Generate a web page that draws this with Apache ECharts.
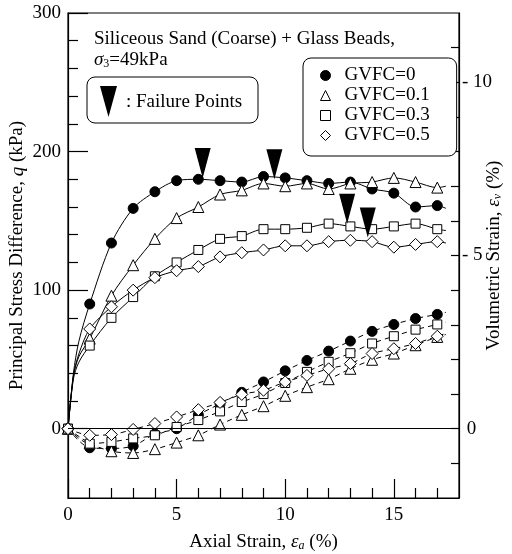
<!DOCTYPE html>
<html>
<head>
<meta charset="utf-8">
<script src="https://cdn.jsdelivr.net/npm/echarts@6/dist/echarts.min.js"></script>
<style>
  html, body { margin: 0; padding: 0; background: #fff; }
  #chart { width: 512px; height: 554px; }
</style>
</head>
<body>
<div id="chart"></div>
<script>
// axial strain (%) for the stress curves; non-integer points carry no marker
var strainQ = [0, 0.25, 0.5, 1, 2, 3, 4, 5, 6, 7, 8, 9, 10, 11, 12, 13, 14, 15, 16, 17, 17.4];
// principal stress difference q (kPa)
var qG0   = [0, 40, 63, 90, 134, 159, 171, 179, 180, 179, 178, 182, 181, 179, 177, 178, 173, 170, 160, 161, 159];
var qG01  = [0, 38, 52, 65, 96, 118, 137, 152, 160, 169, 172, 177, 175, 177, 173, 177, 178, 181, 178, 174, 175];
var qG03  = [0, 36, 48, 60, 80, 95, 110, 120, 129, 137, 139, 144, 144, 145, 148, 146, 144, 146, 148, 144, 143];
var qG05  = [0, 38, 54, 72, 88, 100, 109, 114, 117, 124, 127, 129, 132, 132, 135, 136, 135, 131, 133, 135, 134];

// axial strain (%) for the volumetric curves
var strainV = [0, 1, 2, 3, 4, 5, 6, 7, 8, 9, 10, 11, 12, 13, 14, 15, 16, 17, 17.4];
// volumetric strain ev (%), dilation negative
var evG0  = [0, 0.55, 0.57, 0.5, 0.15, 0.0, -0.4, -0.72, -1.05, -1.35, -1.67, -1.97, -2.24, -2.53, -2.81, -3.01, -3.18, -3.3, -3.36];
var evG01 = [0, 0.42, 0.65, 0.7, 0.59, 0.4, 0.19, -0.12, -0.4, -0.65, -0.95, -1.2, -1.43, -1.73, -1.99, -2.17, -2.41, -2.65, -2.72];
var evG03 = [0, 0.43, 0.38, 0.28, 0.19, -0.05, -0.25, -0.5, -0.77, -1.0, -1.32, -1.64, -1.93, -2.18, -2.46, -2.67, -2.86, -3.01, -3.08];
var evG05 = [0, 0.19, 0.17, 0.02, -0.15, -0.34, -0.55, -0.76, -0.99, -1.11, -1.35, -1.54, -1.73, -1.88, -2.17, -2.31, -2.46, -2.67, -2.75];

// failure points [strain, q]
var failurePts = [[6.2, 181], [9.5, 180], [12.85, 148], [13.8, 138]];

var names = ['GVFC=0', 'GVFC=0.1', 'GVFC=0.3', 'GVFC=0.5'];

// ticks and labels
var xMajorTicks = [0, 5, 10, 15];
var xMinorTicks = [1, 2, 3, 4, 6, 7, 8, 9, 11, 12, 13, 14, 16, 17];
var qMajorTicks = [0, 100, 200, 300];
var qMinorTicks = [20, 40, 60, 80, 120, 140, 160, 180, 220, 240, 260, 280];
var evTicks = [-11, -10, -9, -8, -7, -6, -5, -4, -3, -2, -1, 0, 1];
var evLabels = [-10, -5, 0];

var FONT = '"Liberation Serif", "Times New Roman", serif';

function pts(xs, ys) {
  return xs.map(function (x, i) {
    var d = { value: [x, ys[i]] };
    if (x % 1 !== 0) d.symbol = 'none';
    return d;
  });
}

var marks = [
  { symbol: 'circle', size: 10, fill: '#000' },
  { symbol: 'triangle', size: 11, fill: '#fff' },
  { symbol: 'rect', size: 9, fill: '#fff' },
  { symbol: 'diamond', size: 12, fill: '#fff' }
];
var qData = [qG0, qG01, qG03, qG05];
var evData = [evG0, evG01, evG03, evG05];

var series = [];
names.forEach(function (n, i) {
  var m = marks[i];
  series.push({
    name: n, type: 'line', xAxisIndex: 0, yAxisIndex: 0,
    data: pts(strainQ, qData[i]), smooth: 0.3,
    symbol: m.symbol, symbolSize: m.size,
    itemStyle: { color: m.fill, borderColor: '#000', borderWidth: 1 },
    lineStyle: { color: '#000', width: 1 }
  });
});
names.forEach(function (n, i) {
  var m = marks[i];
  series.push({
    name: n, type: 'line', xAxisIndex: 0, yAxisIndex: 2,
    data: pts(strainV, evData[i]), smooth: 0.3,
    symbol: m.symbol, symbolSize: m.size,
    itemStyle: { color: m.fill, borderColor: '#000', borderWidth: 1 },
    lineStyle: { color: '#000', width: 1, type: [5, 4] }
  });
});
series.push({
  name: 'Failure', type: 'scatter', xAxisIndex: 0, yAxisIndex: 0,
  data: failurePts, symbol: 'path://M0,0L16,0L8,30Z', symbolSize: [16, 30],
  symbolOffset: [0, -15], itemStyle: { color: '#000', opacity: 1 }, z: 10,
  markLine: {
    silent: true, symbol: 'none', label: { show: false },
    lineStyle: { color: '#000', width: 1, type: 'solid' },
    data: [{ yAxis: 0 }]
  }
});

var tickStyle = { color: '#000', width: 1.2 };
var labelStyle = { fontFamily: FONT, fontSize: 19, color: '#000' };
var nameStyle = {
  fontFamily: FONT, fontSize: 19, color: '#000',
  rich: {
    i: { fontFamily: FONT, fontSize: 19, fontStyle: 'italic', color: '#000' },
    sub: { fontFamily: FONT, fontSize: 12, fontStyle: 'italic', color: '#000', verticalAlign: 'bottom', padding: [8, 0, 0, 0] }
  }
};

var chart = echarts.init(document.getElementById('chart'));
chart.setOption({
  animation: false,
  backgroundColor: '#fff',
  grid: {
    left: 68, right: 53, top: 13, bottom: 56, outerBoundsMode: 'none', containLabel: false,
    show: true, borderColor: '#000', borderWidth: 1.2
  },
  xAxis: [{
    type: 'value', min: 0, max: 18, position: 'bottom',
    name: 'Axial Strain, {i|ε}{sub|a} (%)', nameLocation: 'middle', nameGap: 34, nameMoveOverlap: false,
    nameTextStyle: nameStyle,
    axisLine: { onZero: false, lineStyle: tickStyle },
    axisTick: { inside: true, length: 19, customValues: xMajorTicks, lineStyle: tickStyle },
    axisLabel: Object.assign({ customValues: xMajorTicks, margin: 8 }, labelStyle),
    splitLine: { show: false }
  }, {
    type: 'value', min: 0, max: 18, position: 'bottom',
    axisLine: { show: false, onZero: false },
    axisTick: { inside: true, length: 10, customValues: xMinorTicks, lineStyle: tickStyle },
    axisLabel: { show: false }, splitLine: { show: false }
  }],
  yAxis: [{
    type: 'value', min: -50, max: 300, position: 'left',
    name: 'Principal Stress Difference, {i|q} (kPa)', nameLocation: 'middle', nameRotate: 90, nameGap: 41,
    nameMoveOverlap: false, nameTextStyle: nameStyle,
    axisLine: { show: true, onZero: false, lineStyle: tickStyle },
    axisTick: { show: true, inside: true, length: 20, customValues: qMajorTicks, lineStyle: tickStyle },
    axisLabel: Object.assign({ customValues: qMajorTicks, margin: 7 }, labelStyle),
    splitLine: { show: false }
  }, {
    type: 'value', min: -50, max: 300, position: 'left',
    axisLine: { show: false, onZero: false },
    axisTick: { show: true, inside: true, length: 10, customValues: qMinorTicks, lineStyle: tickStyle },
    axisLabel: { show: false }, splitLine: { show: false }
  }, {
    type: 'value', min: -12, max: 2, inverse: true, position: 'right',
    name: 'Volumetric Strain, {i|ε}{sub|v} (%)', nameLocation: 'middle', nameRotate: 90, nameGap: 25,
    nameMoveOverlap: false, nameTextStyle: nameStyle,
    axisLine: { show: true, onZero: false, lineStyle: tickStyle },
    axisTick: { show: true, inside: true, length: 8, customValues: evTicks, lineStyle: tickStyle },
    axisLabel: Object.assign({
      customValues: evLabels, margin: 3,
      formatter: function (v) { return v < 0 ? '- ' + (-v) : ' ' + v; }
    }, labelStyle),
    splitLine: { show: false }
  }],
  legend: {
    left: 303, top: 58, orient: 'vertical',
    padding: [8, 27, 11, 17], itemWidth: 10, itemHeight: 10, itemGap: 1,
    borderColor: '#000', borderWidth: 1, borderRadius: 8, backgroundColor: '#fff',
    textStyle: { fontFamily: FONT, fontSize: 19, color: '#000', lineHeight: 19, padding: [0, 0, 0, 9] },
    data: names.map(function (n, i) {
      return { name: n, icon: marks[i].symbol, itemStyle: { color: marks[i].fill, borderColor: '#000', borderWidth: 1 } };
    })
  },
  graphic: [
    { type: 'text', x: 94, y: 39, style: { text: 'Siliceous Sand (Coarse) + Glass Beads,', font: '19px ' + FONT, fill: '#000', verticalAlign: 'middle' } },
    { type: 'text', x: 94, y: 60, style: {
      text: '{i|σ}{sub|3}=49kPa', font: '19px ' + FONT, fill: '#000', verticalAlign: 'middle',
      rich: {
        i: { font: 'italic 19px ' + FONT, fill: '#000' },
        sub: { font: '12px ' + FONT, fill: '#000', verticalAlign: 'bottom', padding: [8, 0, 0, 0] }
      }
    } },
    { type: 'rect', shape: { x: 87, y: 77, width: 171, height: 46, r: 8 }, style: { fill: '#fff', stroke: '#000', lineWidth: 1 }, z: 5 },
    { type: 'polygon', shape: { points: [[100, 86], [117, 86], [108.5, 117]] }, style: { fill: '#000' }, z: 6 },
    { type: 'text', x: 126, y: 102, style: { text: ': Failure Points', font: '19px ' + FONT, fill: '#000', verticalAlign: 'middle' }, z: 6 }
  ],
  series: series
});
</script>
</body>
</html>
